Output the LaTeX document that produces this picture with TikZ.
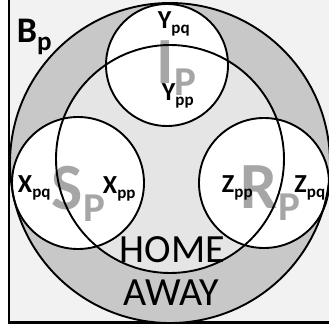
\documentclass[tikz,border=0pt]{standalone}
\usepackage{fontspec}
\setmainfont{Carlito}
\definecolor{paper}{HTML}{F2F2F2}
\definecolor{ringgray}{HTML}{C8C8C8}
\definecolor{homegray}{HTML}{E5E5E5}
\definecolor{lettergray}{HTML}{A6A6A6}
% bold label with a lowered subscript
\newcommand\sublab[2]{{\fontsize{26}{26}\selectfont\bfseries #1}\raisebox{-5pt}{\fontsize{17}{17}\selectfont\bfseries #2}}
% large grey region letter with a lowered subscript
\newcommand\regionlab[2]{{\fontsize{66}{66}\selectfont\bfseries #1}\raisebox{-12pt}{\fontsize{41}{41}\selectfont\bfseries #2}}
\begin{document}
\begin{tikzpicture}[x=1pt,y=-1pt,line width=1.9pt,
  outline/.style={draw=black},
  tag/.style={inner sep=0pt,anchor=base west,text=black},
  region/.style={inner sep=0pt,anchor=base west,text=lettergray},
  word/.style={inner sep=0pt,anchor=base,font=\fontsize{40}{40}\selectfont}]
\useasboundingbox (0,0) rectangle (329,333);
\clip (0,0) rectangle (329,333);
% circle centres
\coordinate (bc) at (170,163);
\coordinate (hc) at (170,159);
\coordinate (ic) at (167,65);
\coordinate (sc) at (78,183);
\coordinate (rc) at (264,183);
% frame
\fill[paper] (9,-5) rectangle (340,322.5);
\draw[line width=2.4pt] (9,-5) -- (9,322.5) -- (340,322.5);
% fills
\fill[ringgray] (bc) circle[radius=160pt];
\fill[homegray] (hc) circle[radius=114pt];
\fill[white] (ic) circle[radius=61pt];
\fill[white] (sc) circle[radius=66pt];
\fill[white] (rc) circle[radius=65pt];
% large region letters
\node[region] (ip) at (156,83) {\regionlab{I}{P}};
\node[region] (sp) at (51,209) {\regionlab{S}{P}};
\node[region] (rp) at (240,208) {\regionlab{R}{P}};
% outlines
\draw[outline] (bc) circle[radius=160pt];
\draw[outline] (hc) circle[radius=114pt];
\draw[outline] (ic) circle[radius=61pt];
\draw[outline] (sc) circle[radius=66pt];
\draw[outline] (rc) circle[radius=65pt];
% labels
\node[tag] (bp) at (16,42) {{\fontsize{36}{36}\selectfont\bfseries B}\raisebox{-8pt}{\fontsize{27}{27}\selectfont\bfseries p}};
\node[tag] (ypq) at (157,28) {\sublab{Y}{pq}};
\node[tag] (ypp) at (161,100) {\sublab{Y}{pp}};
\node[tag] (xpq) at (17,192) {\sublab{X}{pq}};
\node[tag] (xpp) at (102,193) {\sublab{X}{pp}};
\node[tag] (zpp) at (221,192) {\sublab{Z}{pp}};
\node[tag] (zpq) at (293.5,192) {\sublab{Z}{pq}};
\node[word] (home) at (172.5,262) {HOME};
\node[word] (away) at (171.5,305) {AWAY};
\end{tikzpicture}
\end{document}
